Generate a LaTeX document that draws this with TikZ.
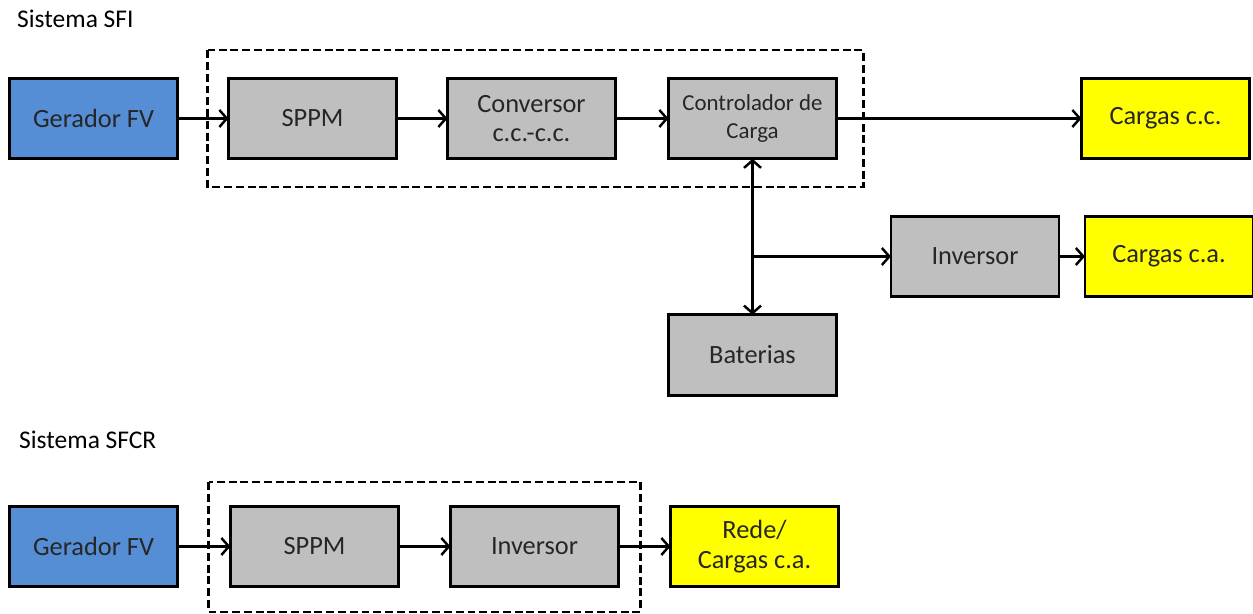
\documentclass[tikz,border=0pt]{standalone}
\usepackage{fontspec}
\setmainfont{Carlito}
\usepackage{tikz}
\usepackage{xcolor}
\usetikzlibrary{positioning, fit, calc, arrows.meta}
\definecolor{fvblue}{RGB}{85,142,213}
\definecolor{boxgray}{RGB}{191,191,191}
\definecolor{loadyellow}{RGB}{255,255,0}
\tikzset{block/.style={draw, line width=1.5pt, outer sep=0pt, fill=boxgray, minimum width=3.36cm, minimum height=1.61cm, align=center, font=\fontsize{15}{17}\selectfont, text=black!85},
line/.style={-{Straight Barb[length=1.5mm,width=3.4mm]}, line width=1.4pt},
frame/.style={line width=1.4pt, dash pattern=on 4.5pt off 2.2pt},
title/.style={anchor=west, font=\fontsize{14.5}{17}\selectfont}
}

\begin{document}
\begin{tikzpicture}
\useasboundingbox (0,0) rectangle (25.06,-12.28);
\node[title] (t1) at (0.22,-0.38) {Sistema SFI};
\node[block,fill=fvblue] (a) at (1.87,-2.37) {Gerador FV};
\node[block,right=1.02cm of a] (b) {SPPM};
\node[block,right=1.02cm of b] (c) {Conversor\\c.c.-c.c.};
\node[block,right=1.06cm of c,font=\fontsize{13}{16}\selectfont] (d) {Controlador de\\Carga};
\node[block,fill=loadyellow,right=4.9cm of d] (e) {Cargas c.c.};
\node[block,below=3.12cm of d] (f) {Baterias};
\node[block] (g) at (19.5,-5.13) {Inversor};
\node[block,fill=loadyellow,right=0.52cm of g] (h) {Cargas c.a.};
 % the dashed frames around the conditioning blocks
\draw[frame] ([xshift=-0.42cm,yshift=0.56cm]b.north west) rectangle ([xshift=0.54cm,yshift=-0.56cm]d.south east);
\draw[line] (a)--(b);
\draw[line] (b)--(c);
\draw[line] (c)--(d);
\draw[line] (d)--(e);
\draw[line,{Straight Barb[length=1.5mm,width=3.4mm]}-{Straight Barb[length=1.5mm,width=3.4mm]}] (d)--(f);
\draw[line] (d.south |- g.west)--(g);
\draw[line] (g)--(h);
\node[title] (t2) at (0.26,-8.8) {Sistema SFCR};
\node[block,fill=fvblue] (p) at (1.87,-10.93) {Gerador FV};
\node[block,right=1.06cm of p] (q) {SPPM};
\node[block,right=1.04cm of q] (r) {Inversor};
\node[block,fill=loadyellow,right=1.04cm of r] (s) {Rede/\\Cargas c.a.};
\draw[frame] ([xshift=-0.44cm,yshift=0.48cm]q.north west) rectangle ([xshift=0.44cm,yshift=-0.5cm]r.south east);
\draw[line] (p)--(q);
\draw[line] (q)--(r);
\draw[line] (r)--(s);
\end{tikzpicture}
\end{document}
